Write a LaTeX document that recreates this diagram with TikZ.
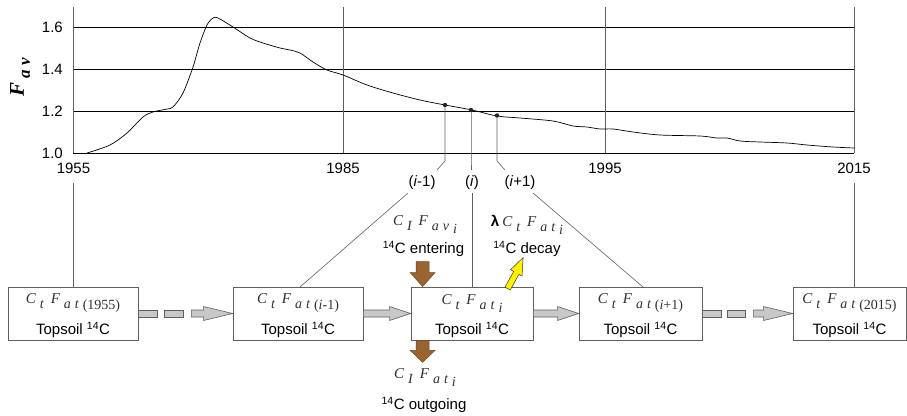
\documentclass[tikz,border=0pt]{standalone}
\usepackage{fontspec}
\setmainfont{Liberation Sans}
\newfontfamily\tms{Liberation Serif}
\usetikzlibrary{calc}
\definecolor{fml}{HTML}{303030}
\definecolor{gfill}{HTML}{C8C8C8}
\definecolor{gline}{HTML}{606060}
\definecolor{brn}{HTML}{9A6430}
\newcommand{\lw}[2]{\raisebox{-#1pt}{#2}}
\newcommand{\mainsz}{\fontsize{15}{17}\selectfont}
\newcommand{\subsz}{\fontsize{14}{16}\selectfont}
% C_{#1} F_{#2}
\newcommand{\CF}[2]{{\color{fml}\tms\itshape\mainsz C\kern4pt\lw{5}{\subsz #1}\kern7pt F\kern4pt\lw{5}{\subsz #2}}}
\newcommand{\tsc}{Topsoil \textsuperscript{14}C}
\begin{document}
\begin{tikzpicture}[x=1pt,y=-1pt,
  txt/.style={font=\fontsize{15}{17}\selectfont, inner sep=0pt},
  box/.style={draw=gline, line width=0.8pt, minimum height=53pt, inner sep=0pt},
  ftxt/.style={inner sep=0pt},
  grid/.style={black, line width=0.8pt},
  vline/.style={gline, line width=0.8pt},
  conn/.style={gline, line width=0.6pt},
  garrow/.style={fill=gfill, draw=gline, line width=0.6pt},
  barrow/.style={fill=brn, draw=brn!70!black, line width=0.4pt},
  yarrow/.style={fill=yellow, draw=black!80, line width=0.5pt},
  dot/.style={circle, fill=black!85, inner sep=0pt, minimum size=4.5pt}]
\useasboundingbox (0,0) rectangle (907,415);

% ---------- plot ----------
\foreach \yy in {27,69,111,153} \draw[grid] (73,\yy) -- (854,\yy);
\draw[vline] (73,7) -- (73,153);
\draw[vline] (343,7) -- (343,153);
\draw[vline] (605,7) -- (605,153);
\draw[vline] (854,7) -- (854,153);

\node[txt, anchor=east] (t16) at (63,27) {1.6};
\node[txt, anchor=east] (t14) at (63,69) {1.4};
\node[txt, anchor=east] (t12) at (63,111) {1.2};
\node[txt, anchor=east] (t10) at (63,153) {1.0};
\node[txt] (y1955) at (73.5,168) {1955};
\node[txt] (y1985) at (343,168) {1985};
\node[txt] (y1995) at (605,168) {1995};
\node[txt] (y2015) at (854,168) {2015};

\node[rotate=90, inner sep=0pt] (ylab) at (20,77)
  {\fontsize{21}{22}\selectfont\tms\bfseries\itshape F\kern4pt\lw{6}{\fontsize{17}{18}\selectfont a\kern4pt v}};

\draw[black, line width=0.7pt] plot[smooth, tension=0.5] coordinates {
 (87,153) (110,145) (127,133) (143,117) (153,112) (167,109) (173,107) (183,93) (193,67)
 (200,43) (207,25) (213,18) (218,18) (233,27) (250,38) (263,43) (280,48) (290,50) (300,53)
 (313,62) (327,70) (343,75) (367,85) (393,93) (420,100) (445,105) (472,110) (497,116)
 (520,118) (553,121) (573,126) (587,127) (600,129) (613,129) (633,132) (660,135) (700,136)
 (717,138) (727,138) (740,141) (760,142) (787,143) (807,145) (833,147) (854,148)};

\node[dot] (pm) at (445,105) {};
\node[dot] (pi) at (471,110) {};
\node[dot] (pp) at (497,115.5) {};

% ---------- index labels ----------
\node[txt] (lm) at (422,183) {(\textit{i}-1)};
\node[txt] (li) at (472,183) {(\textit{i})};
\node[txt] (lp) at (520,183) {(\textit{i}+1)};

% ---------- boxes ----------
\node[box, minimum width=130pt] (b1) at (73,313.5) {};
\node[box, minimum width=130pt] (b2) at (298,313.5) {};
\node[box, minimum width=122pt] (b3) at (472,313.5) {};
\node[box, minimum width=123pt] (b4) at (640.5,313.5) {};
\node[box, minimum width=113pt] (b5) at (849.5,313.5) {};

\node[ftxt] (f1) at ($(b1.center)+(0,-10)$) {\CF{t}{a\kern4pt t\kern4pt\lw{1}{\upshape(1955)}}};
\node[ftxt] (f2) at ($(b2.center)+(0,-10)$) {\CF{t}{a\kern4pt t\kern4pt\lw{1}{\upshape(\textit{i}-1)}}};
\node[ftxt] (f3) at ($(b3.center)+(0,-10)$) {\CF{t}{a\kern4pt t\kern4pt\lw{3}{i}}};
\node[ftxt] (f4) at ($(b4.center)+(0,-10)$) {\CF{t}{a\kern4pt t\kern4pt\lw{1}{\upshape(\textit{i}+1)}}};
\node[ftxt] (f5) at ($(b5.center)+(0,-10)$) {\CF{t}{a\kern4pt t\kern4pt\lw{1}{\upshape(2015)}}};
\foreach \b in {1,...,5}
  \node[txt] (s\b) at ($(b\b.center)+(0,16.5)$) {\tsc};

% ---------- connectors ----------
\coordinate (c1955) at (73,183);
\coordinate (c2015) at (854,183);
\draw[vline] (c1955) -- (b1.north);
\draw[vline] (c2015) -- (b5.north -| c2015);

\coordinate (km) at (445,161);
\coordinate (ki) at (471,161);
\coordinate (kp) at (497,161);
\draw[conn] (pm) -- (km) -- (437,170);
\draw[conn] (pi) -- (ki) -- (471,170);
\draw[conn] (pp) -- (kp) -- (505,170);

\coordinate (bm) at (300,287);
\coordinate (bp) at (643,287);
\draw[conn] (408,193) -- (bm);
\draw[conn] (472,193) -- (b3.north);
\draw[conn] (533,193) -- (bp);

% ---------- grey block arrows ----------
\newcommand{\garr}[3]{%
 \filldraw[garrow] ($(#1)+(0,-3.5)$) -- ($(#2)+(-#3,-3.5)$) -- ($(#2)+(-#3,-7)$) -- (#2)
   -- ($(#2)+(-#3,7)$) -- ($(#2)+(-#3,3.5)$) -- ($(#1)+(0,3.5)$) -- cycle;}
\newcommand{\grect}[2]{%
 \filldraw[garrow] ($(#1)+(0,-3.5)$) rectangle ($(#2)+(0,3.5)$);}

\coordinate (d1a) at ($(b1.east)+(19,0)$);
\coordinate (d1b) at ($(b1.east)+(26,0)$);
\coordinate (d1c) at ($(b1.east)+(45,0)$);
\coordinate (d1d) at ($(b1.east)+(53,0)$);
\grect{b1.east}{d1a}
\grect{d1b}{d1c}
\garr{d1d}{b2.west}{29}

\garr{b2.east}{b3.west}{21}
\garr{b3.east}{b4.west}{21}

\coordinate (d4a) at ($(b4.east)+(19,0)$);
\coordinate (d4b) at ($(b4.east)+(25,0)$);
\coordinate (d4c) at ($(b4.east)+(43,0)$);
\coordinate (d4d) at ($(b4.east)+(51,0)$);
\grect{b4.east}{d4a}
\grect{d4b}{d4c}
\garr{d4d}{b5.west}{29}

% ---------- brown arrows ----------
\coordinate (inTip) at ($(b3.north west)+(12,0)$);
\filldraw[barrow] ($(inTip)+(-6.5,-25)$) -- ($(inTip)+(6.5,-25)$) -- ($(inTip)+(6.5,-14)$)
  -- ($(inTip)+(12.5,-14)$) -- (inTip) -- ($(inTip)+(-12.5,-14)$) -- ($(inTip)+(-6.5,-14)$) -- cycle;
\coordinate (outBase) at ($(b3.south west)+(12,0)$);
\filldraw[barrow] ($(outBase)+(-6.5,0)$) -- ($(outBase)+(6.5,0)$) -- ($(outBase)+(6.5,10)$)
  -- ($(outBase)+(12.5,10)$) -- ($(outBase)+(0,22)$) -- ($(outBase)+(-12.5,10)$) -- ($(outBase)+(-6.5,10)$) -- cycle;

% ---------- yellow arrow ----------
\coordinate (yb) at ($(b3.north west)+(97,2)$);
\filldraw[yarrow] ($(yb)+(2.6,1.5)$) -- ($(yb)+(11.3,-14.2)$) -- ($(yb)+(14.4,-12.5)$)
  -- ($(yb)+(15.5,-31)$) -- ($(yb)+(3,-18.9)$) -- ($(yb)+(6.1,-17.2)$) -- ($(yb)+(-2.6,-1.5)$) -- cycle;

% ---------- flow labels ----------
\node[ftxt] (fin) at (425,225) {\CF{\itshape I}{a\kern4pt v\kern4pt\lw{3}{i}}};
\node[txt] (tin) at (423.5,249) {\textsuperscript{14}C entering};
\node[ftxt] (fdec) at (527,225) {{\mainsz\textbf{λ}}\kern3pt\CF{t}{a\kern4pt t\kern4pt\lw{3}{i}}};
\node[txt] (tdec) at (527,249) {\textsuperscript{14}C decay};
\node[ftxt] (fout) at (425,378) {\CF{\itshape I}{a\kern4pt t\kern4pt\lw{3}{i}}};
\node[txt] (tout) at (424,405) {\textsuperscript{14}C outgoing};
\end{tikzpicture}
\end{document}
